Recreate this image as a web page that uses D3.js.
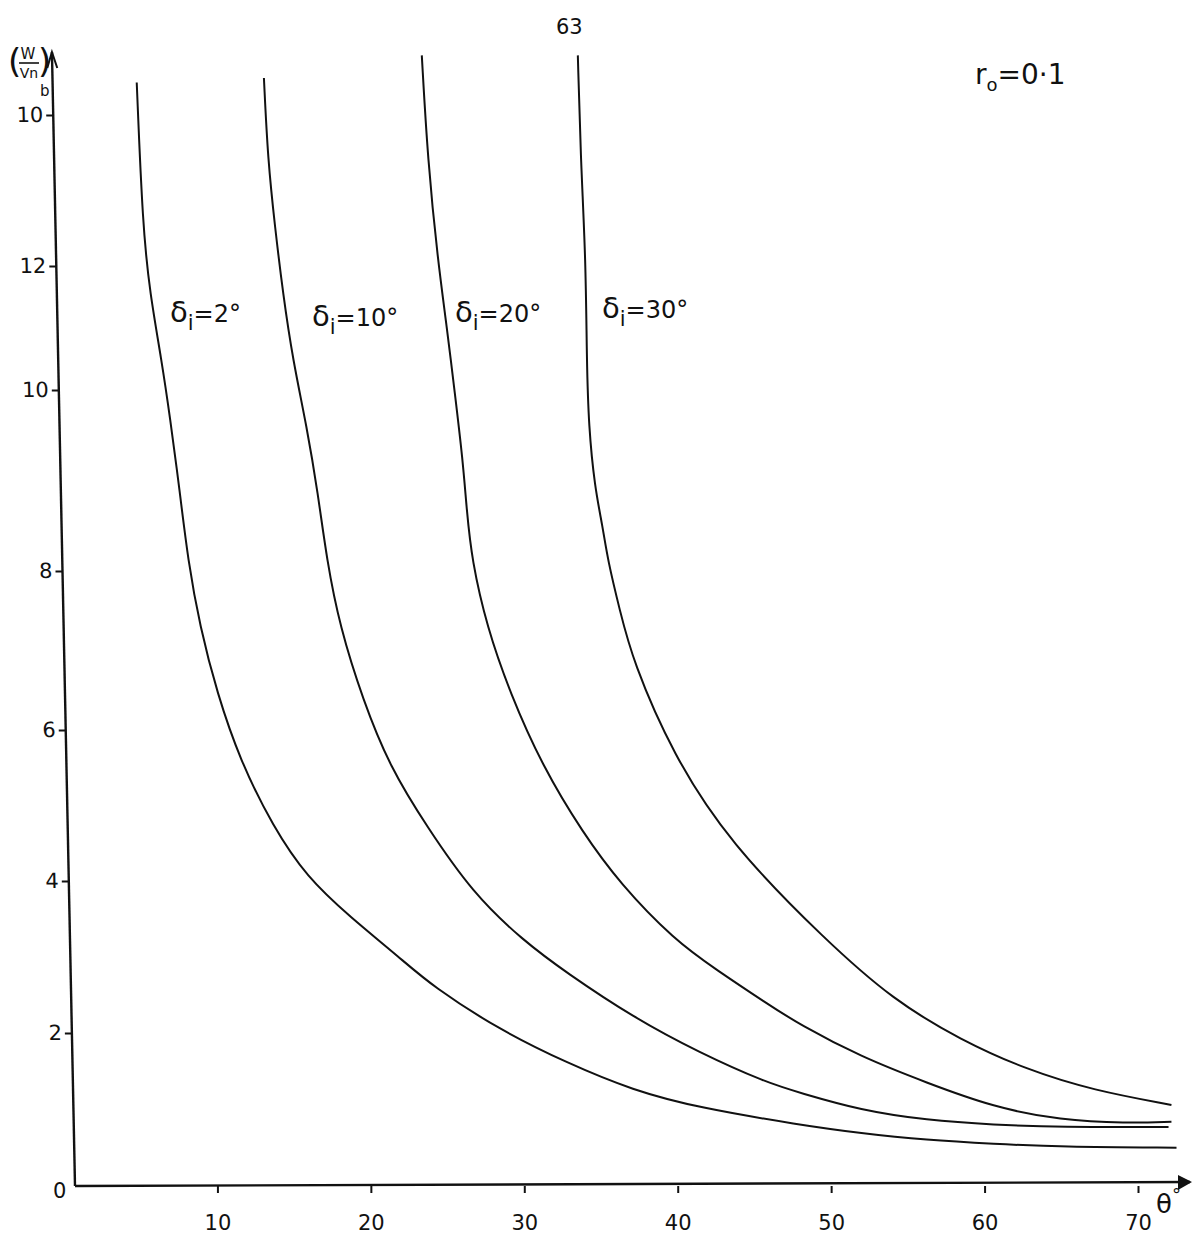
<!DOCTYPE html>
<html>
<head>
<meta charset="utf-8">
<script src="https://cdn.jsdelivr.net/npm/d3@7"></script>
<style>
  body { margin: 0; background: #fff; }
  text { font-family: "DejaVu Sans", sans-serif; fill: #111; }
</style>
</head>
<body>
<div id="chart"></div>
<script>
// values (theta in degrees, (W/Vn)b)
var curveLabels = ["2°", "10°", "20°", "30°"];
var thetaTicks = [10, 20, 30, 40, 50, 60, 70];
var yTicks = [2, 4, 6, 8, 10, 12, 14];
var yTickLabels = ["2", "4", "6", "8", "10", "12", "10"];

var theta_2 = [4.74, 5.13, 5.60, 6.36, 6.91, 7.56, 8.08, 8.86, 9.97, 11.47, 13.62, 15.83, 18.63, 21.89, 24.04, 28.40, 32.77, 37.07, 41.43, 47.95, 51.92, 56.22, 60.59, 64.95, 72.51];
var w_2     = [14.43, 12.52, 11.56, 10.48, 9.70, 8.86, 8.12, 7.30, 6.47, 5.60, 4.72, 4.05, 3.53, 2.99, 2.61, 2.04, 1.61, 1.25, 1.02, 0.80, 0.69, 0.60, 0.55, 0.51, 0.50];

var theta_10 = [13.03, 13.29, 13.75, 14.27, 14.92, 15.83, 16.55, 17.13, 17.98, 19.48, 21.24, 23.65, 26.64, 29.90, 32.77, 37.07, 41.43, 45.80, 47.95, 51.92, 56.22, 60.59, 64.95, 71.99];
var w_10     = [14.49, 13.40, 12.52, 11.56, 10.48, 9.59, 8.86, 8.12, 7.30, 6.38, 5.51, 4.72, 3.84, 3.22, 2.79, 2.21, 1.74, 1.35, 1.22, 0.99, 0.86, 0.80, 0.77, 0.77];

var theta_20 = [23.32, 23.71, 24.36, 24.95, 25.47, 25.99, 26.25, 26.58, 27.56, 29.06, 31.21, 33.81, 36.22, 39.80, 42.54, 45.80, 47.95, 51.92, 56.22, 60.59, 64.95, 69.25, 72.18];
var w_20     = [14.79, 13.40, 12.08, 11.02, 9.97, 9.23, 8.67, 8.12, 7.30, 6.47, 5.51, 4.64, 3.97, 3.22, 2.83, 2.39, 2.11, 1.69, 1.35, 1.03, 0.86, 0.82, 0.84];

var theta_30 = [33.49, 33.68, 34.01, 34.07, 34.20, 34.59, 35.11, 35.44, 36.22, 37.07, 39.67, 43.39, 49.64, 54.07, 58.44, 62.74, 67.10, 72.18];
var w_30     = [14.79, 13.40, 12.08, 10.48, 9.59, 8.93, 8.49, 8.12, 7.51, 6.87, 5.68, 4.50, 3.22, 2.43, 1.91, 1.52, 1.25, 1.06];

var series = [
  {label: curveLabels[0], theta: theta_2,  w: w_2},
  {label: curveLabels[1], theta: theta_10, w: w_10},
  {label: curveLabels[2], theta: theta_20, w: w_20},
  {label: curveLabels[3], theta: theta_30, w: w_30}
];

var width = 1194, height = 1241;

var svg = d3.select("#chart").append("svg")
    .attr("width", width)
    .attr("height", height);

var x = d3.scaleLinear().domain([0, 70]).range([64, 1138]);
// the hand ruled ticks are not evenly spaced, so follow them piece by piece
var y = d3.scaleLinear()
    .domain([0, 2, 4, 6, 8, 10, 12, 14])
    .range([1186, 1033, 881, 730, 571, 390, 266, 115]);

var y0 = y(0);

// x axis
var xg = svg.append("g")
    .attr("transform", "translate(0," + y0 + ")")
    .call(d3.axisBottom(x).tickValues(thetaTicks).tickSize(7).tickPadding(22));
xg.select(".domain").remove();
xg.selectAll("line").attr("stroke", "#111").attr("stroke-width", 2);
xg.selectAll("text").style("font-size", "21px").attr("fill", "#111");

xg.append("line")
    .attr("x1", 75).attr("x2", 1190)
    .attr("y1", 0).attr("y2", -4)
    .attr("stroke", "#111").attr("stroke-width", 2.4);
xg.append("path")
    .attr("d", "M1178,-11 L1192,-4 L1178,4 Z")
    .attr("fill", "#111");

// y axis, drawn leaning a little like the original
var lean = 23 / 1131;
var ang = Math.atan(lean) * 180 / Math.PI;
var yg = svg.append("g")
    .attr("transform", "translate(" + (75 - y0 * lean) + ",0) skewX(" + ang + ")")
    .call(d3.axisLeft(y).tickValues(yTicks).tickFormat(function(d, i) { return yTickLabels[i]; })
      .tickSize(7).tickPadding(3));
yg.select(".domain").remove();
yg.selectAll("line").attr("stroke", "#111").attr("stroke-width", 2);
yg.selectAll("text").style("font-size", "21px").attr("fill", "#111");

yg.append("line")
    .attr("x1", 0).attr("x2", 0)
    .attr("y1", y0).attr("y2", 52)
    .attr("stroke", "#111").attr("stroke-width", 2.4);
yg.append("path")
    .attr("d", "M-5,68 L0,52 L5,68")
    .attr("fill", "none").attr("stroke", "#111").attr("stroke-width", 2);

// curves
var line = d3.line()
    .x(function(d) { return x(d[0]); })
    .y(function(d) { return y(d[1]); })
    .curve(d3.curveBasis);

svg.selectAll(".curve")
    .data(series)
  .enter().append("path")
    .attr("class", "curve")
    .attr("d", function(s) { return line(d3.zip(s.theta, s.w)); })
    .attr("fill", "none")
    .attr("stroke", "#111")
    .attr("stroke-width", 2);

// curve labels
var labelPos = [[170, 322], [312, 326], [455, 322], [602, 318]];
series.forEach(function(s, i) {
  var t = svg.append("text")
      .attr("x", labelPos[i][0]).attr("y", labelPos[i][1])
      .style("font-size", "29px");
  t.append("tspan").text("δ");
  t.append("tspan").attr("dy", 8).style("font-size", "21px").text("i");
  t.append("tspan").attr("dy", -8).style("font-size", "24px").text("=" + s.label);
});

// y axis title (W / Vn)b
var yt = svg.append("g");
yt.append("text").attr("x", 8).attr("y", 73).style("font-size", "34px").text("(");
yt.append("text").attr("x", 28).attr("y", 59).attr("text-anchor", "middle").style("font-size", "15px").text("W");
yt.append("line").attr("x1", 19).attr("x2", 39).attr("y1", 63).attr("y2", 63).attr("stroke", "#111").attr("stroke-width", 1.6);
yt.append("text").attr("x", 29).attr("y", 78).attr("text-anchor", "middle").style("font-size", "14px").text("Vn");
yt.append("text").attr("x", 38).attr("y", 73).style("font-size", "34px").text(")");
yt.append("text").attr("x", 40).attr("y", 96).style("font-size", "15px").text("b");

// origin and x axis title
svg.append("text").attr("x", 53).attr("y", 1198).style("font-size", "21px").text("0");
var xt = svg.append("text").attr("x", 1156).attr("y", 1213).style("font-size", "26px");
xt.append("tspan").text("θ");
xt.append("tspan").attr("dy", -12).style("font-size", "18px").text("°");

// page number and parameter
svg.append("text").attr("x", 556).attr("y", 34).style("font-size", "21px").text("63");
var rt = svg.append("text").attr("x", 975).attr("y", 84).style("font-size", "28px");
rt.append("tspan").text("r");
rt.append("tspan").attr("dy", 7).style("font-size", "18px").text("o");
rt.append("tspan").attr("dy", -7).text("=0·1");
</script>
</body>
</html>
